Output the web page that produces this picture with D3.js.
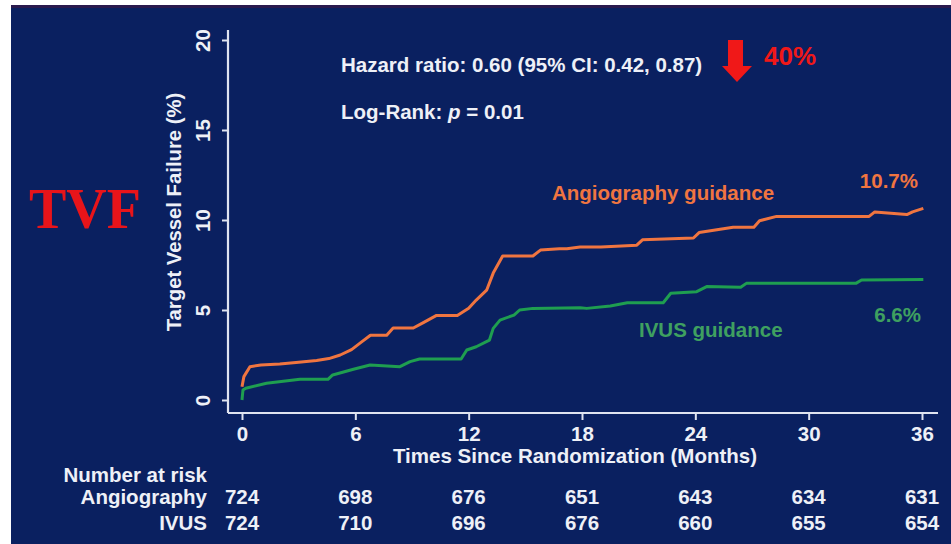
<!DOCTYPE html>
<html lang="en">
<head>
<meta charset="UTF-8">
<title>TVF Kaplan-Meier</title>
<script src="https://cdn.jsdelivr.net/npm/d3@7"></script>
<style>
  body { margin: 0; background: #fff; }
  svg { display: block; font-family: "Liberation Sans", Arial, sans-serif; font-weight: bold; }
</style>
</head>
<body>
<div id="chart"></div>
<script>
// curve data (months, % target vessel failure)
const angioMonths = [0, 0.1, 0.42, 1.0, 2.0, 3.0, 3.95, 4.6, 5.2, 5.8, 6.3, 6.8, 7.66, 8.0, 9.07, 9.6, 10.3, 11.4, 12.0, 12.4, 12.95, 13.3, 13.8, 15.4, 15.8, 16.8, 17.2, 17.9, 19.0, 20.9, 21.2, 23.9, 24.2, 26.0, 27.1, 27.4, 28.3, 30.0, 33.2, 33.5, 35.2, 35.5, 36.07];
const angioValues = [0.74, 1.3, 1.85, 1.95, 2.0, 2.1, 2.2, 2.3, 2.5, 2.8, 3.2, 3.6, 3.6, 4.0, 4.0, 4.3, 4.7, 4.7, 5.1, 5.55, 6.1, 7.05, 8.0, 8.0, 8.33, 8.4, 8.4, 8.5, 8.5, 8.6, 8.9, 9.0, 9.3, 9.6, 9.6, 9.96, 10.2, 10.2, 10.2, 10.45, 10.3, 10.45, 10.65];

const ivusMonths = [0, 0.05, 0.2, 1.3, 3.07, 4.55, 4.8, 5.9, 6.78, 8.36, 8.9, 9.4, 11.6, 11.9, 12.4, 13.1, 13.3, 13.66, 14.4, 14.7, 15.4, 17.9, 18.25, 19.5, 20.4, 22.3, 22.7, 24.07, 24.6, 26.4, 26.7, 32.5, 32.8, 36.07];
const ivusValues = [0, 0.55, 0.65, 0.93, 1.15, 1.15, 1.39, 1.71, 1.94, 1.85, 2.13, 2.28, 2.28, 2.78, 2.96, 3.33, 3.98, 4.44, 4.72, 5.0, 5.09, 5.13, 5.09, 5.22, 5.4, 5.4, 5.93, 6.02, 6.3, 6.26, 6.48, 6.48, 6.67, 6.7];

// axis ticks
const xTicks = [0, 6, 12, 18, 24, 30, 36];
const yTicks = [0, 5, 10, 15, 20];

// number at risk table
const riskMonths = [0, 6, 12, 18, 24, 30, 36];
const riskAngio = [724, 698, 676, 651, 643, 634, 631];
const riskIvus = [724, 710, 696, 676, 660, 655, 654];

const width = 951, height = 544;
const navy = "#0a2060";
const axisColor = "#dfe3f0";
const textColor = "#eef0f7";
const orange = "#f07540";
const green = "#1f9e50";
const fs = 20.5;

const svg = d3.select("#chart").append("svg")
    .attr("width", width)
    .attr("height", height);

// slide background
svg.append("rect").attr("x", 11).attr("y", 6).attr("width", width - 11).attr("height", height - 6).attr("fill", navy);
svg.append("rect").attr("x", 11).attr("y", 5).attr("width", width - 11).attr("height", 3).attr("fill", "#2a1a4e");

const x = d3.scaleLinear().domain([0, 36]).range([242, 922]);
const y = d3.scaleLinear().domain([0, 20]).range([400, 40]);

// y axis
const yAxis = svg.append("g")
    .attr("transform", "translate(228,0)")
    .call(d3.axisLeft(y).tickValues(yTicks).tickSize(6).tickPadding(10).tickFormat(d3.format("d")));
yAxis.select(".domain").attr("d", "M0,30V413");
yAxis.selectAll(".tick text")
    .attr("transform", "rotate(-90)")
    .attr("x", 0).attr("y", -25)
    .attr("dy", "0.35em")
    .attr("text-anchor", "middle");

// x axis
const xAxis = svg.append("g")
    .attr("transform", "translate(0,413)")
    .call(d3.axisBottom(x).tickValues(xTicks).tickSize(7).tickPadding(6).tickFormat(d3.format("d")));
xAxis.select(".domain").attr("d", "M228,0H938");

svg.selectAll(".domain").attr("stroke", axisColor).attr("stroke-width", 2.2);
svg.selectAll(".tick line").attr("stroke", axisColor).attr("stroke-width", 2);
svg.selectAll(".tick text").attr("fill", textColor).attr("font-size", fs)
    .attr("font-family", "Liberation Sans, Arial, sans-serif").attr("font-weight", "bold");

// axis titles
svg.append("text")
    .attr("transform", "translate(181,212) rotate(-90)")
    .attr("text-anchor", "middle")
    .attr("fill", textColor).attr("font-size", 20.3)
    .text("Target Vessel Failure (%)");
svg.append("text")
    .attr("x", 575).attr("y", 463)
    .attr("text-anchor", "middle")
    .attr("fill", textColor).attr("font-size", fs)
    .text("Times Since Randomization (Months)");

// curves
const line = d3.line().x(d => x(d[0])).y(d => y(d[1]));
svg.append("path")
    .datum(d3.zip(ivusMonths, ivusValues))
    .attr("fill", "none").attr("stroke", green).attr("stroke-width", 3)
    .attr("stroke-linejoin", "round")
    .attr("d", line);
svg.append("path")
    .datum(d3.zip(angioMonths, angioValues))
    .attr("fill", "none").attr("stroke", orange).attr("stroke-width", 3)
    .attr("stroke-linejoin", "round")
    .attr("d", line);

// curve labels
svg.append("text").attr("x", 552).attr("y", 200).attr("fill", orange).attr("font-size", fs).text("Angiography guidance");
svg.append("text").attr("x", 918).attr("y", 188).attr("text-anchor", "end").attr("fill", orange).attr("font-size", fs).text("10.7%");
svg.append("text").attr("x", 639).attr("y", 337).attr("fill", "#3fa060").attr("font-size", fs).text("IVUS guidance");
svg.append("text").attr("x", 921).attr("y", 322).attr("text-anchor", "end").attr("fill", "#3fa060").attr("font-size", fs).text("6.6%");

// stats
svg.append("text").attr("x", 341).attr("y", 72).attr("fill", textColor).attr("font-size", fs)
    .text("Hazard ratio: 0.60 (95% CI: 0.42, 0.87)");
const lr = svg.append("text").attr("x", 341).attr("y", 119).attr("fill", textColor).attr("font-size", fs);
lr.append("tspan").text("Log-Rank: ");
lr.append("tspan").attr("font-style", "italic").text("p");
lr.append("tspan").text(" = 0.01");

// red arrow and 40%
svg.append("path")
    .attr("d", "M728,40H743V66H752L737,82L722,66H728Z")
    .attr("fill", "#f01818");
svg.append("text").attr("x", 764).attr("y", 65).attr("fill", "#f01818").attr("font-size", 26).text("40%");

// TVF label
svg.append("text").attr("x", 29).attr("y", 228)
    .attr("fill", "#e8141a").attr("font-size", 56)
    .attr("font-family", "Liberation Serif, Times New Roman, serif")
    .text("TVF");

// number at risk
const risk = svg.append("g").attr("fill", textColor).attr("font-size", fs);
risk.append("text").attr("x", 207).attr("y", 482).attr("text-anchor", "end").text("Number at risk");
risk.append("text").attr("x", 207).attr("y", 504).attr("text-anchor", "end").text("Angiography");
risk.append("text").attr("x", 207).attr("y", 530).attr("text-anchor", "end").text("IVUS");
risk.selectAll(".ra").data(d3.zip(riskMonths, riskAngio)).enter().append("text")
    .attr("x", d => x(d[0])).attr("y", 504).attr("text-anchor", "middle").text(d => d[1]);
risk.selectAll(".ri").data(d3.zip(riskMonths, riskIvus)).enter().append("text")
    .attr("x", d => x(d[0])).attr("y", 530).attr("text-anchor", "middle").text(d => d[1]);
</script>
</body>
</html>
